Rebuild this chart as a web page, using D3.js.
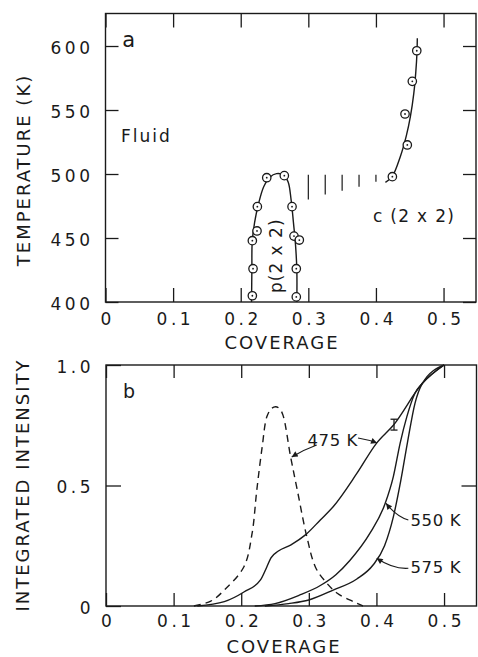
<!DOCTYPE html>
<html>
<head>
<meta charset="utf-8">
<script src="https://cdn.jsdelivr.net/npm/d3@7"></script>
<style>
  body { margin: 0; background: #fff; }
  text { font-family: "DejaVu Sans", sans-serif; fill: #1a1a1a; }
</style>
</head>
<body>
<div id="chart"></div>
<script>
// ---- panel a : phase diagram (coverage, temperature K) ----
const p2x2Points = [
  [0.2172, 404.9], [0.2182, 426], [0.2172, 447.9], [0.2241, 455.5], [0.2246, 474.5],
  [0.2385, 497.1], [0.2645, 498.7], [0.2759, 474.5], [0.2788, 451.5], [0.2867, 448.4],
  [0.2822, 426], [0.2822, 404]
];
const c2x2Points = [
  [0.4243, 497.9], [0.4464, 522.7], [0.443, 546.9], [0.4538, 572.4], [0.4604, 596.3]
];
const domeCurve = [
  [0.216, 400], [0.2165, 425], [0.217, 447], [0.2205, 462], [0.226, 476], [0.234, 490],
  [0.243, 497.5], [0.253, 500.3], [0.263, 499.3], [0.27, 494], [0.2745, 480], [0.278, 462],
  [0.281, 445], [0.283, 425], [0.283, 400]
];
const c2x2Curve = [
  [0.414, 493.5], [0.424, 498], [0.436, 513.5], [0.445, 530], [0.451, 545],
  [0.456, 563], [0.459, 580], [0.4607, 595], [0.4612, 606]
];
const hatchCoverage = [0.30, 0.325, 0.35, 0.375, 0.40];
const hatchLow = [480, 484, 487, 490, 494];
const hatchTop = 499.5;

// ---- panel b : integrated intensity vs coverage ----
const curve475 = [
  [0.135, 0], [0.175, 0.018], [0.2046, 0.059], [0.2285, 0.108], [0.238, 0.163], [0.244, 0.2],
  [0.255, 0.228], [0.273, 0.253], [0.295, 0.295], [0.317, 0.357], [0.336, 0.412],
  [0.371, 0.55], [0.400, 0.675], [0.425, 0.75], [0.468, 0.924], [0.5, 1.0]
];
const curve550 = [
  [0.22, 0], [0.25, 0.01], [0.286, 0.045], [0.317, 0.085], [0.34, 0.13], [0.361, 0.19],
  [0.39, 0.30], [0.413, 0.426], [0.425, 0.537], [0.435, 0.675], [0.445, 0.786],
  [0.457, 0.883], [0.468, 0.924], [0.5, 1.0]
];
const curve575 = [
  [0.235, 0], [0.27, 0.01], [0.3, 0.025], [0.336, 0.066], [0.371, 0.112], [0.395, 0.17],
  [0.412, 0.25], [0.425, 0.37], [0.436, 0.52], [0.446, 0.68], [0.457, 0.841],
  [0.468, 0.924], [0.5, 1.0]
];
const curveDashed = [
  [0.13, 0], [0.155, 0.02], [0.175, 0.066], [0.204, 0.163], [0.216, 0.30], [0.223, 0.48],
  [0.231, 0.66], [0.238, 0.786], [0.245, 0.82], [0.251, 0.827], [0.257, 0.818],
  [0.262, 0.79], [0.273, 0.62], [0.283, 0.48], [0.297, 0.288], [0.31, 0.16],
  [0.325, 0.10], [0.342, 0.053], [0.366, 0.018], [0.38, 0]
];
const errorBar = { x: 0.426, lo: 0.73, hi: 0.775 };

const xTicks = [0, 0.1, 0.2, 0.3, 0.4, 0.5];
const tempTicks = [400, 450, 500, 550, 600];
const intTicks = [0, 0.5, 1.0];

const W = 478, H = 657;
const svg = d3.select("#chart").append("svg")
  .attr("width", W).attr("height", H);
svg.append("rect").attr("width", W).attr("height", H).attr("fill", "#fff");

const ink = "#1a1a1a";
const LS = 3.5; // tick label letter spacing

const xA = d3.scaleLinear().domain([0, 0.548]).range([105.5, 476]);
const yA = d3.scaleLinear().domain([400, 625.4]).range([302, 13.5]);
const xB = d3.scaleLinear().domain([0, 0.548]).range([106, 476.5]);
const yB = d3.scaleLinear().domain([0, 1]).range([606, 365]);

const fmtX = d => d === 0 ? "0" : d.toFixed(1);

function styleAxis(g) {
  g.select(".domain").remove();
  g.selectAll(".tick line").attr("stroke", ink).attr("stroke-width", 1.3);
  g.selectAll(".tick text")
    .attr("fill", ink)
    .style("font-family", '"DejaVu Sans", sans-serif')
    .style("font-size", "17px")
    .style("letter-spacing", LS + "px");
}

function drawFrame(x, y, opts) {
  const [x0, x1] = x.range();
  const [y0, y1] = y.range();
  // bottom
  svg.append("g").attr("transform", `translate(0,${y0})`)
    .call(d3.axisBottom(x).tickValues(xTicks).tickSizeInner(-opts.tx).tickSizeOuter(0)
      .tickPadding(opts.xPad).tickFormat(fmtX))
    .call(styleAxis)
    .call(g => g.selectAll(".tick text").attr("dx", LS / 2));
  // top
  svg.append("g").attr("transform", `translate(0,${y1})`)
    .call(d3.axisTop(x).tickValues(xTicks).tickSizeInner(-opts.tx).tickSizeOuter(0).tickFormat(""))
    .call(styleAxis);
  // left
  svg.append("g").attr("transform", `translate(${x0},0)`)
    .call(d3.axisLeft(y).tickValues(opts.yTicks).tickSizeInner(-opts.ty).tickSizeOuter(0)
      .tickPadding(15.5 - LS).tickFormat(opts.yFmt))
    .call(styleAxis)
    .call(g => g.selectAll(".tick text").attr("dy", "0.42em"));
  // right
  svg.append("g").attr("transform", `translate(${x1},0)`)
    .call(d3.axisRight(y).tickValues(opts.rTicks).tickSizeInner(-opts.ty).tickSizeOuter(0).tickFormat(""))
    .call(styleAxis);
  svg.append("rect")
    .attr("x", x0).attr("y", y1)
    .attr("width", x1 - x0).attr("height", y0 - y1)
    .attr("fill", "none").attr("stroke", ink).attr("stroke-width", 1.4);
}

function axisTitle(txt, x, y, rotate) {
  svg.append("text")
    .attr("transform", `translate(${x},${y})` + (rotate ? " rotate(-90)" : ""))
    .attr("text-anchor", "middle")
    .attr("dx", 1)
    .style("font-size", "18px")
    .style("letter-spacing", "2px")
    .text(txt);
}

// ---------- panel a ----------
drawFrame(xA, yA, {
  tx: 14, ty: 13, xPad: 11,
  yTicks: tempTicks, rTicks: tempTicks, yFmt: d3.format("d")
});

const lineA = d3.line().x(d => xA(d[0])).y(d => yA(d[1])).curve(d3.curveCatmullRom.alpha(0.5));
svg.append("path").datum(domeCurve).attr("d", lineA)
  .attr("fill", "none").attr("stroke", ink).attr("stroke-width", 1.4);
svg.append("path").datum(c2x2Curve).attr("d", lineA)
  .attr("fill", "none").attr("stroke", ink).attr("stroke-width", 1.4);

svg.append("g").selectAll("line")
  .data(hatchCoverage.map((c, i) => [c, hatchLow[i]]))
  .join("line")
    .attr("x1", d => xA(d[0])).attr("x2", d => xA(d[0]))
    .attr("y1", yA(hatchTop)).attr("y2", d => yA(d[1]))
    .attr("stroke", ink).attr("stroke-width", 1.2);

const pts = svg.append("g").selectAll("g")
  .data(p2x2Points.concat(c2x2Points))
  .join("g")
    .attr("transform", d => `translate(${xA(d[0])},${yA(d[1])})`);
pts.append("circle").attr("r", 4.2).attr("fill", "#fff").attr("stroke", ink).attr("stroke-width", 1.3);
pts.append("circle").attr("r", 0.9).attr("fill", ink);

svg.append("text").attr("x", xA(0.0246)).attr("y", yA(599.2))
  .style("font-size", "21px").text("a");
svg.append("text").attr("x", xA(0.023)).attr("y", yA(525))
  .style("font-size", "17px").style("letter-spacing", "2px").text("Fluid");
svg.append("text").attr("x", xA(0.3957)).attr("y", yA(462.5))
  .style("font-size", "17px").style("letter-spacing", "1.3px").text("c (2 x 2)");
svg.append("text")
  .attr("transform", `translate(${xA(0.261)},${yA(407)}) rotate(-90)`)
  .style("font-size", "17px").style("letter-spacing", "1px").text("p(2 x 2)");

axisTitle("COVERAGE", 281, 349, false);
axisTitle("TEMPERATURE (K)", 30, 171, true);

// ---------- panel b ----------
drawFrame(xB, yB, {
  tx: 13, ty: 15, xPad: 9,
  yTicks: intTicks, rTicks: [0.5], yFmt: d => d === 0 ? "0" : d.toFixed(1)
});

const lineB = d3.line().x(d => xB(d[0])).y(d => yB(d[1])).curve(d3.curveMonotoneX);
[curve475, curve550, curve575].forEach(c => {
  svg.append("path").datum(c).attr("d", lineB)
    .attr("fill", "none").attr("stroke", ink).attr("stroke-width", 1.4);
});
const lineDash = d3.line().x(d => xB(d[0])).y(d => yB(d[1])).curve(d3.curveCatmullRom.alpha(0.5));
svg.append("path").datum(curveDashed).attr("d", lineDash)
  .attr("fill", "none").attr("stroke", ink).attr("stroke-width", 1.4)
  .attr("stroke-dasharray", "7,5");

// error bar
const eb = svg.append("g").attr("stroke", ink).attr("stroke-width", 1.3);
eb.append("line").attr("x1", xB(errorBar.x)).attr("x2", xB(errorBar.x))
  .attr("y1", yB(errorBar.lo)).attr("y2", yB(errorBar.hi));
[errorBar.lo, errorBar.hi].forEach(v => {
  eb.append("line").attr("x1", xB(errorBar.x) - 3.5).attr("x2", xB(errorBar.x) + 3.5)
    .attr("y1", yB(v)).attr("y2", yB(v));
});

// labels with arrows
svg.append("defs").append("marker")
  .attr("id", "arrow").attr("viewBox", "0 0 10 10")
  .attr("refX", 10).attr("refY", 5)
  .attr("markerWidth", 9).attr("markerHeight", 6)
  .attr("markerUnits", "userSpaceOnUse")
  .attr("orient", "auto")
  .append("path").attr("d", "M0,0L10,5L0,10Z").attr("fill", ink);

const tempLabels = [
  { text: "475 K", x: 0.298, y: 0.664 },
  { text: "550 K", x: 0.4504, y: 0.333 },
  { text: "575 K", x: 0.4504, y: 0.137 }
];
svg.append("g").selectAll("text").data(tempLabels).join("text")
  .attr("x", d => xB(d.x)).attr("y", d => yB(d.y))
  .style("font-size", "16.5px").style("letter-spacing", "0.6px")
  .text(d => d.text);

// arrows: start, control, tip (data units)
const arrows = [
  [[0.3728, 0.697], [0.388, 0.690], [0.4009, 0.676]],
  [[0.3117, 0.668], [0.292, 0.648], [0.2747, 0.618]],
  [[0.4472, 0.357], [0.430, 0.370], [0.4142, 0.426]],
  [[0.4472, 0.1564], [0.425, 0.152], [0.4004, 0.198]]
];
svg.append("g").selectAll("path").data(arrows).join("path")
  .attr("d", d => `M${xB(d[0][0])},${yB(d[0][1])}Q${xB(d[1][0])},${yB(d[1][1])} ${xB(d[2][0])},${yB(d[2][1])}`)
  .attr("fill", "none").attr("stroke", ink).attr("stroke-width", 1.1)
  .attr("marker-end", "url(#arrow)");

svg.append("text").attr("x", xB(0.025)).attr("y", yB(0.863))
  .style("font-size", "19px").text("b");

axisTitle("COVERAGE", 283, 653, false);
axisTitle("INTEGRATED INTENSITY", 29, 486, true);
</script>
</body>
</html>
